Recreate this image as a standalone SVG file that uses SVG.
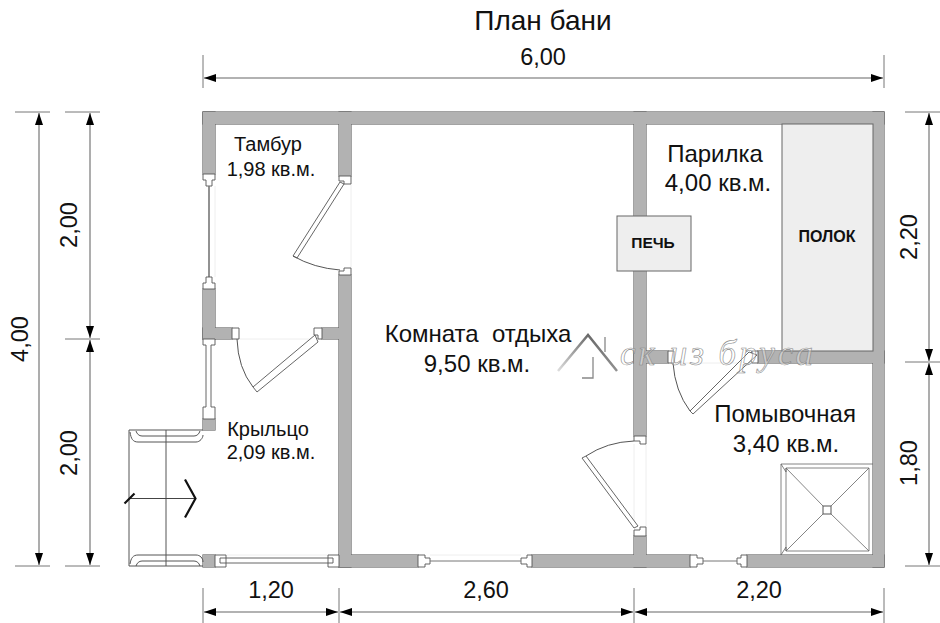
<svg xmlns="http://www.w3.org/2000/svg" xmlns:xlink="http://www.w3.org/1999/xlink" width="940" height="623" viewBox="0 0 940 623">
<style>
text{font-family:"Liberation Sans",Arial,sans-serif;fill:#111;text-anchor:middle}
.r{font-size:24px}
.s{font-size:20px}
.d{font-size:23.500px}
.b{font-weight:bold}
.t{fill:none;stroke:#555;stroke-width:1}
.u{fill:none;stroke:#666;stroke-width:.8}
.w{fill:#fff;stroke:#555;stroke-width:.9}
.f{fill:none;stroke:#eee;stroke-width:1}
.dl{stroke:#999;stroke-width:1.6;fill:none;marker-start:url(#a);marker-end:url(#a)}
.e{stroke:#777;stroke-width:1;fill:none}
.g{fill:#eee;stroke:#666;stroke-width:1}
</style>
<defs>
<marker id="a" markerUnits="userSpaceOnUse" markerWidth="13" markerHeight="10" refX="12" refY="5" orient="auto-start-reverse"><path d="M0 1L12 5L0 9Z" fill="#000"/></marker>
<linearGradient id="lg" x1="0" y1="1" x2="1" y2="0"><stop offset="0" stop-color="#ddd"/><stop offset="1" stop-color="#444"/></linearGradient>
<g id="wallset">
<rect x="203" y="112" width="681" height="12"/>
<rect x="203" y="112" width="12" height="62"/>
<rect x="203" y="289" width="12" height="50"/>
<rect x="203" y="328" width="29" height="11"/>
<rect x="322" y="328" width="17" height="11"/>
<rect x="339" y="112" width="12" height="64"/>
<rect x="339" y="275" width="12" height="292"/>
<rect x="203" y="419" width="12" height="11"/>
<rect x="203" y="555" width="12" height="12"/>
<rect x="339" y="555" width="79" height="12"/>
<rect x="532" y="555" width="158" height="12"/>
<rect x="747" y="555" width="137" height="12"/>
<rect x="873" y="112" width="11" height="455"/>
<rect x="634" y="112" width="12" height="324"/>
<rect x="634" y="536" width="12" height="31"/>
<rect x="634" y="351" width="34" height="12"/>
<rect x="758" y="351" width="126" height="12"/>
</g>
</defs>
<rect width="940" height="623" fill="#fff"/>
<g id="thresholds" class="f">
<path d="M215 186V277M351 184V268M232 339H315M634 444V527M646 444V527M674 363H750M226 555H329M430 555H521"/>
</g>
<g id="walls">
<use xlink:href="#wallset" fill="#666" stroke="#666" stroke-width="1.200"/>
<use xlink:href="#wallset" fill="#b2b2b2"/>
</g>
<g id="polok"><rect class="g" x="782" y="124" width="91" height="227"/><text class="b" x="827" y="242" font-size="16">ПОЛОК</text></g>
<g id="pech"><rect class="g" x="617" y="216" width="74" height="55"/><text class="b" x="653" y="248" font-size="15.500">ПЕЧЬ</text></g>
<g id="openings">
<path class="w" d="M203 174H215V180H212V186H206V180H203Z"/>
<path d="M209 186V277" stroke="#777" stroke-width="1.600" fill="none"/>
<path class="w" d="M203 289H215V283H212V277H206V283H203Z"/>
<path class="w" d="M203 339H215V345H211V407H215V419H203V407H206V345H203Z"/>
<path class="w" d="M339 176H351V184H344V181H339Z"/>
<path class="w" d="M339 275H351V268H344V271H339Z"/>
<path class="w" d="M232 328H239V339H232Z"/>
<path class="w" d="M322 328H314V335H318V339H322Z"/>
<path class="w" d="M215 555H226V558H328V555H339V567H328V563H226V567H215Z"/>
<path class="w" d="M220 558H226V563H220ZM333 558H328V563H333Z"/>
<path class="w" d="M418 555H425V558H430V564H425V567H418Z"/>
<path class="w" d="M532 555H527V558H521V564H527V567H532Z"/>
<path d="M430 561H521" stroke="#777" stroke-width="1" fill="none"/>
<path class="w" d="M690 555H697V558H703V564H697V567H690Z"/>
<path class="w" d="M747 555H741V558H737V564H741V567H747Z"/>
<path d="M703 561H737" stroke="#777" stroke-width="1" fill="none"/>
<path class="w" d="M634 436H646V444H640V441H634Z"/>
<path class="w" d="M634 536H646V527H640V530H634Z"/>
<path class="w" d="M668 351H674V363H668Z"/>
<path class="w" d="M758 351V363H752L750 358L752 351Z"/>
</g>
<g id="doors">
<path class="w" d="M340 182L293 256L297 258L344 184Z"/>
<path class="t" d="M293 256Q314 268 340 270"/>
<path class="w" d="M315 335L253 387L257 392L318 342Z"/>
<path class="t" d="M237 339Q238 368 253 387"/>
<path class="w" d="M582 458L586 456L638 526L634 528Z"/>
<path class="t" d="M586 456Q607 442 634 441"/>
<path class="w" d="M749 352L690 411L693 414L757 355Z"/>
<path class="t" d="M673 363Q675 391 690 411"/>
</g>
<g id="shower">
<path class="u" d="M781 555V464H873M786 468H869V551H786ZM781 464L786 472V468M781 555L786 547V551"/>
<rect class="t" x="823" y="506" width="8" height="8"/>
<path class="u" d="M786 468L823 506M869 468L831 506M786 551L823 514M869 551L831 514"/>
</g>
<g id="porch">
<path class="t" d="M203 430H129V566H203M166 430V566"/>
<path class="t" d="M130 432C131 439 133 442 138 442H196C200 442 203 438 203 435M136 431C137 434 139 436 142 436H194C197 436 199 434 200 431"/>
<path class="t" d="M130 564C131 558 133 555 138 555H196C200 555 203 558 203 562M136 566C137 563 139 561 142 561H194C197 561 199 563 200 566"/>
<path d="M129 498.500H195" stroke="#444" stroke-width="1" fill="none"/>
<path d="M124.500 503.500L134.500 493.500M185 479.500L195.500 498.500L185 517.500" stroke="#111" stroke-width="2.200" fill="none"/>
</g>
<g id="watermark">
<path d="M558 371L588 335L617 371" fill="none" stroke="url(#lg)" stroke-width="2.500"/>
<path d="M605 337V352M593 357V378H582" fill="none" stroke="#888" stroke-width="1.300"/>
<text x="718" y="365" font-size="35" letter-spacing="3" style="font-family:'Liberation Serif',serif;font-style:italic;fill:#fff;fill-opacity:.35;stroke:#888;stroke-width:.6">ск из бруса</text>
</g>
<g id="dimensions">
<path class="e" d="M203 55V88M884 55V88M15 112H50M65 112H100M65 339H100M15 566H50M65 566H100M905 112H940M905 362H940M905 566H940M203 588V623M339 588V623M634 588V623M884 588V623"/>
<path class="dl" d="M204 78H883"/>
<path class="dl" d="M39 113V565"/>
<path class="dl" d="M90 113V338"/>
<path class="dl" d="M90 340V565"/>
<path class="dl" d="M929 113V361"/>
<path class="dl" d="M929 363V565"/>
<path class="dl" d="M204 612H338"/>
<path class="dl" d="M340 612H633"/>
<path class="dl" d="M635 612H883"/>
</g>
<g id="labels">
<text x="543" y="30" font-size="28">План бани</text>
<text class="d" x="543" y="65">6,00</text>
<text class="d" x="271" y="598">1,20</text>
<text class="d" x="486" y="598">2,60</text>
<text class="d" x="759" y="598">2,20</text>
<text class="d" transform="translate(28 339) rotate(-90)">4,00</text>
<text class="d" transform="translate(77 225) rotate(-90)">2,00</text>
<text class="d" transform="translate(77 453) rotate(-90)">2,00</text>
<text class="d" transform="translate(917 237) rotate(-90)">2,20</text>
<text class="d" transform="translate(917 463) rotate(-90)">1,80</text>
<text class="s" x="268" y="151">Тамбур</text>
<text class="s" x="271" y="176">1,98 кв.м.</text>
<text class="s" x="268" y="436">Крыльцо</text>
<text class="s" x="271" y="459">2,09 кв.м.</text>
<text class="r" x="715" y="162">Парилка</text>
<text class="r" x="718" y="191">4,00 кв.м.</text>
<text class="r" x="478" y="342" xml:space="preserve">Комната  отдыха</text>
<text class="r" x="477" y="372">9,50 кв.м.</text>
<text class="r" x="785" y="422">Помывочная</text>
<text class="r" x="786" y="452">3,40 кв.м.</text>
</g>
</svg>
